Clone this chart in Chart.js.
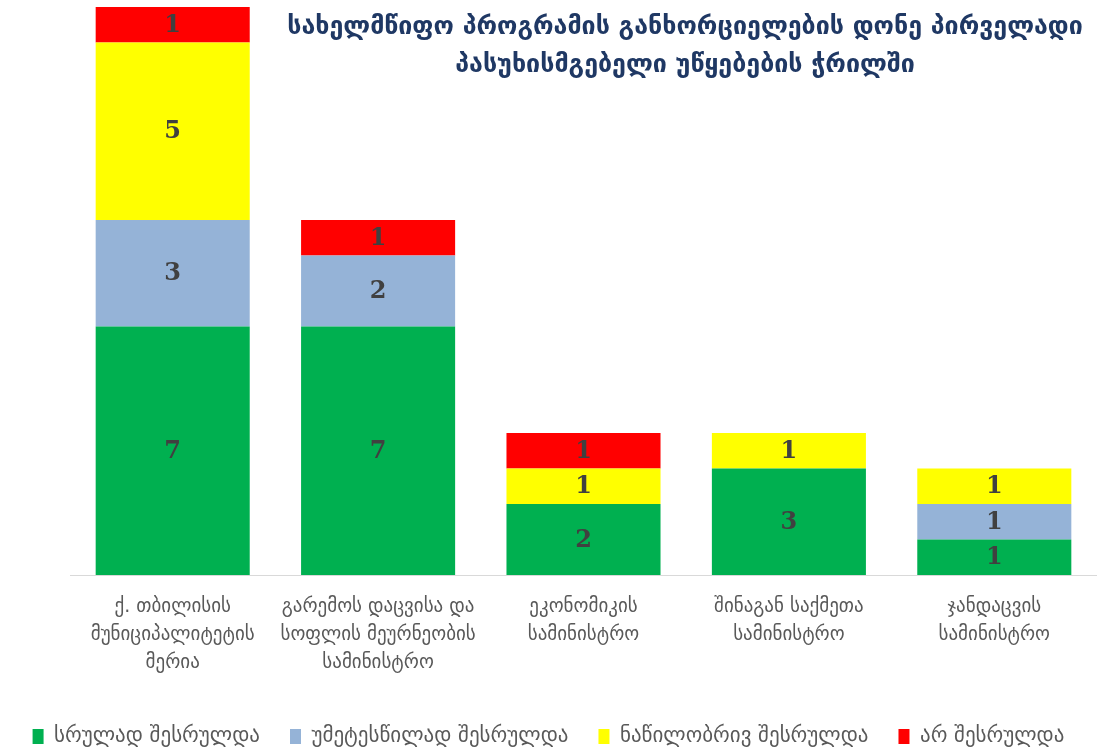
<!DOCTYPE html>
<html>
<head>
<meta charset="utf-8">
<script src="https://cdn.jsdelivr.net/npm/chart.js@4"></script>
<style>
  html, body { margin: 0; padding: 0; background: #fff; }
  #wrap { width: 1097px; height: 749px; position: relative; }
</style>
</head>
<body>
<div id="wrap"><canvas id="myChart"></canvas></div>
<script>
const categories = [
  ['ქ. თბილისის', 'მუნიციპალიტეტის', 'მერია'],
  ['გარემოს დაცვისა და', 'სოფლის მეურნეობის', 'სამინისტრო'],
  ['ეკონომიკის', 'სამინისტრო'],
  ['შინაგან საქმეთა', 'სამინისტრო'],
  ['ჯანდაცვის', 'სამინისტრო']
];
const fullyDone = [7, 7, 2, 3, 1];
const mostlyDone = [3, 2, null, null, 1];
const partlyDone = [5, null, 1, 1, 1];
const notDone = [1, 1, 1, null, null];
const seriesNames = ['სრულად შესრულდა', 'უმეტესწილად შესრულდა', 'ნაწილობრივ შესრულდა', 'არ შესრულდა'];
const titleLines = ['სახელმწიფო პროგრამის განხორციელების დონე პირველადი', 'პასუხისმგებელი უწყებების ჭრილში'];

const geoFont = "'DejaVu Sans', sans-serif";

// numbers in the middle of every segment
const barLabels = {
  id: 'barLabels',
  afterDatasetsDraw(chart) {
    let ctx = chart.ctx;
    ctx.save();
    ctx.font = "bold 24px 'DejaVu Serif', serif";
    ctx.fillStyle = '#404040';
    ctx.textAlign = 'center';
    ctx.textBaseline = 'middle';
    chart.data.datasets.forEach((ds, i) => {
      chart.getDatasetMeta(i).data.forEach((bar, j) => {
        if (ds.data[j] == null) return;
        let p = bar.getCenterPoint();
        ctx.fillText(ds.data[j], p.x, p.y + 1);
      });
    });
    ctx.restore();
  }
};

// title sits over the plot, top right
const overTitle = {
  id: 'overTitle',
  afterDraw(chart) {
    let ctx = chart.ctx;
    ctx.save();
    ctx.font = 'bold 25px ' + geoFont;
    ctx.fillStyle = '#1F3864';
    ctx.textAlign = 'center';
    ctx.textBaseline = 'middle';
    ctx.fillText(titleLines[0], 685, 27);
    ctx.fillText(titleLines[1], 685, 65);
    ctx.restore();
  }
};

let ctx = document.getElementById('myChart');
let myChart = new Chart(ctx, {
  type: 'bar',
  data: {
    labels: categories,
    datasets: [
      { label: seriesNames[0], data: fullyDone, backgroundColor: '#00B050' },
      { label: seriesNames[1], data: mostlyDone, backgroundColor: '#95B3D7' },
      { label: seriesNames[2], data: partlyDone, backgroundColor: '#FFFF00' },
      { label: seriesNames[3], data: notDone, backgroundColor: '#FF0000' }
    ]
  },
  options: {
    responsive: true,
    maintainAspectRatio: false,
    animation: false,
    layout: { padding: { left: 0, right: 0, top: 7, bottom: -8 } },
    datasets: { bar: { barPercentage: 0.75, categoryPercentage: 1 } },
    scales: {
      x: {
        stacked: true,
        grid: { display: false },
        border: { display: true, color: '#D9D9D9', width: 1 },
        ticks: {
          color: '#595959',
          font: { family: geoFont, size: 19, lineHeight: 1.47 },
          maxRotation: 0, autoSkip: false, padding: 10
        },
        afterFit(scale) { scale.height = 121; }
      },
      y: {
        stacked: true, min: 0, max: 16,
        grid: { display: false },
        border: { display: false },
        ticks: { display: false },
        afterFit(scale) { scale.width = 70; }
      }
    },
    plugins: {
      legend: {
        position: 'bottom',
        labels: {
          color: '#595959',
          font: { family: geoFont, size: 21 },
          boxWidth: 11, boxHeight: 15, padding: 30
        }
      },
      tooltip: { enabled: false }
    }
  },
  plugins: [barLabels, overTitle]
});
</script>
</body>
</html>
